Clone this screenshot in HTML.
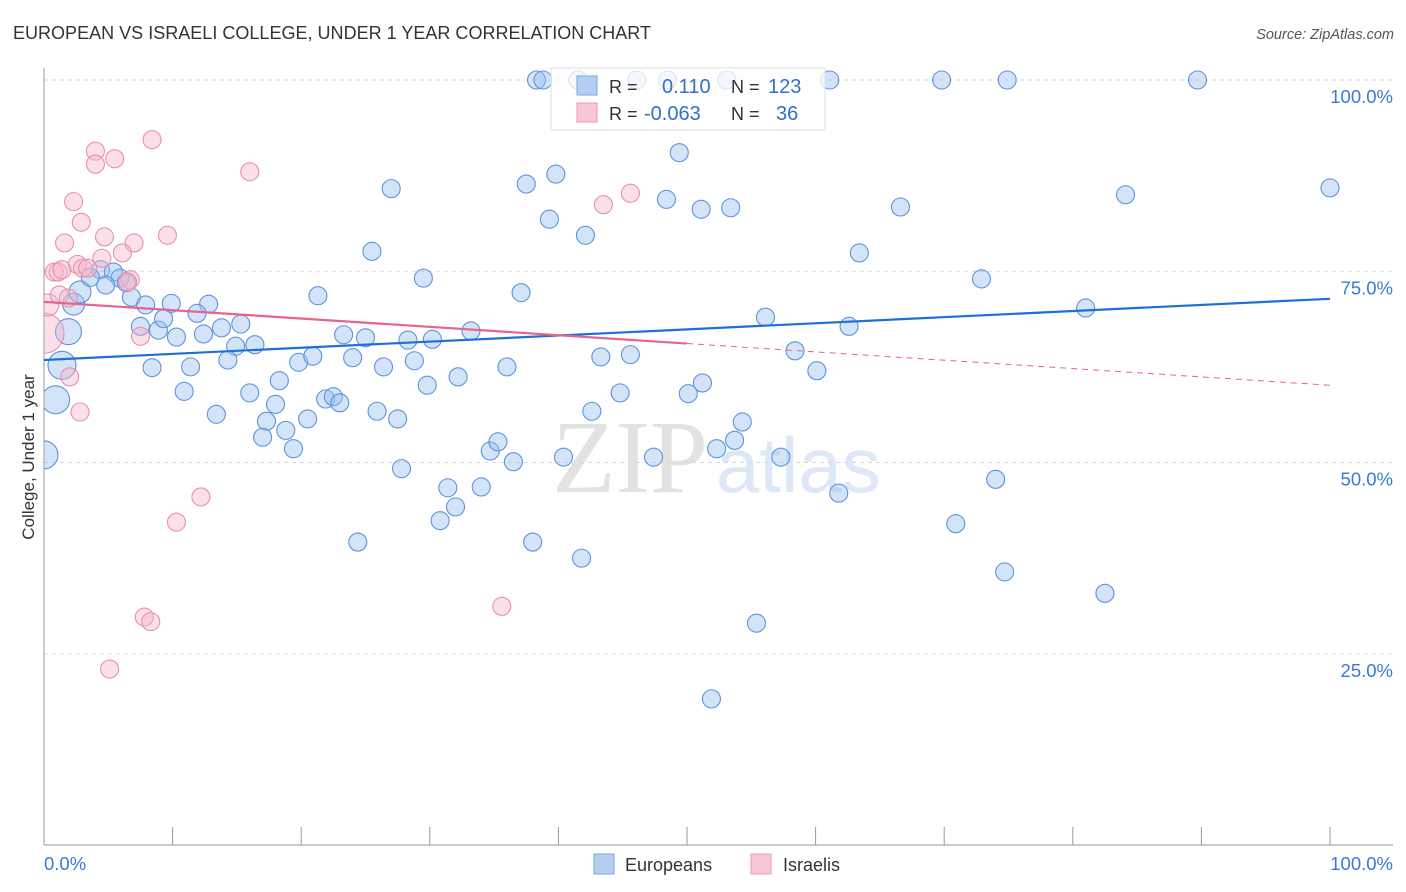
<!DOCTYPE html>
<html><head><meta charset="utf-8"><style>
body{margin:0;background:#fff;font-family:"Liberation Sans",sans-serif;}
svg{display:block}
</style></head><body>
<svg id="chart" width="1406" height="892" viewBox="0 0 1406 892">
<defs><clipPath id="plotclip"><rect x="44" y="40" width="1360" height="805"/></clipPath></defs>
<text x="13" y="39" font-size="18" fill="#333" textLength="638">EUROPEAN VS ISRAELI COLLEGE, UNDER 1 YEAR CORRELATION CHART</text>
<text x="1394" y="39" font-size="14.5" font-style="italic" fill="#555" text-anchor="end">Source: ZipAtlas.com</text>
<g>
<text x="552" y="492" font-family="Liberation Serif,serif" font-size="104" fill="#e2e2e2">ZIP</text>
<text x="716" y="492" font-size="78" fill="#dce8f8">atlas</text>
</g>
<g id="grid"></g>
<g id="axes"></g>
<g id="pts" clip-path="url(#plotclip)"></g>
<g id="trends"></g>
<g>
<rect x="551" y="68" width="274" height="62" fill="#fff" fill-opacity="0.75" stroke="#ddd"/>
<rect x="577" y="76" width="20" height="19" fill="#b5cff3" stroke="#7aa5e0"/>
<rect x="577" y="103" width="20" height="19" fill="#f9c6d5" stroke="#eb9ab4"/>
<text x="609" y="93" font-size="18" fill="#333">R =</text>
<text x="662" y="93" font-size="20" fill="#2f6fd0">0.110</text>
<text x="731" y="93" font-size="18" fill="#333">N =</text>
<text x="768" y="93" font-size="20" fill="#2f6fd0">123</text>
<text x="609" y="120" font-size="18" fill="#333">R =</text>
<text x="644" y="120" font-size="20" fill="#2f6fd0">-0.063</text>
<text x="731" y="120" font-size="18" fill="#333">N =</text>
<text x="776" y="120" font-size="20" fill="#2f6fd0">36</text>
</g>
<text transform="translate(34,457) rotate(-90)" font-size="17" fill="#333" text-anchor="middle">College, Under 1 year</text>
<g>
<rect x="594" y="854" width="20" height="20" fill="#b5cff3" stroke="#7aa5e0"/>
<text x="625" y="871" font-size="18" fill="#333">Europeans</text>
<rect x="751" y="854" width="20" height="20" fill="#f9c6d5" stroke="#eb9ab4"/>
<text x="783" y="871" font-size="18" fill="#333">Israelis</text>
</g>
</svg>
<script>
const xTickVals=[0,10,20,30,40,50,60,70,80,90,100];
const yTickVals=[25,50,75,100];
const yTickLabels=["25.0%","50.0%","75.0%","100.0%"];
const xEndLabels=["0.0%","100.0%"];
const euX=[0,0.9,1.4,1.9,2.3,2.8,38.3,38.8,41.5,46.1,48.5,53.1,61.1,69.8,74.9,89.7,49.4,27.0,37.5,39.8,48.4,51.1,53.4,66.6,84.1,100,39.3,42.1,25.5,63.4,29.5,72.9,4.4,5.4,5.9,6.4,4.8,3.6,6.8,7.9,9.9,12.8,21.3,37.1,11.9,81.0,56.1,7.5,8.9,10.3,12.4,13.8,15.3,9.3,14.9,16.4,23.3,25.0,28.3,30.2,33.2,62.6,8.4,11.4,14.3,19.8,20.9,24.0,26.4,28.8,32.2,36.0,43.3,45.6,58.4,60.1,10.9,16.0,18.3,18.0,21.9,22.5,23.0,29.8,44.8,50.1,51.2,13.4,17.3,20.5,25.9,27.5,42.6,54.3,18.8,17.0,19.4,34.7,35.3,36.5,40.4,47.4,52.3,53.7,57.3,27.8,31.4,34.0,32.0,30.8,61.8,74.0,24.4,38.0,70.9,41.8,74.7,82.5,55.4,51.9];
const euY=[51.0,58.2,62.7,67.1,70.7,72.3,100,100,100,100,100,100,100,100,100,100,90.5,85.8,86.4,87.7,84.4,83.1,83.3,83.4,85.0,85.9,81.8,79.7,77.6,77.4,74.1,74.0,75.2,74.9,74.1,73.5,73.2,74.2,71.6,70.6,70.8,70.7,71.8,72.2,69.5,70.2,69.0,67.8,67.3,66.4,66.8,67.6,68.1,68.8,65.2,65.4,66.7,66.3,66.0,66.1,67.2,67.8,62.4,62.5,63.4,63.1,63.9,63.7,62.5,63.3,61.2,62.5,63.8,64.1,64.6,62.0,59.3,59.1,60.7,57.6,58.3,58.6,57.8,60.1,59.1,59.0,60.4,56.3,55.4,55.7,56.7,55.7,56.7,55.3,54.2,53.3,51.8,51.5,52.7,50.1,50.7,50.7,51.8,52.9,50.7,49.2,46.7,46.8,44.2,42.4,46.0,47.8,39.6,39.6,42.0,37.5,35.7,32.9,29.0,19.1];
const euS=[14,14,14,13,11,11];
const isX=[0,0.3,0.8,1.1,1.4,1.6,2.3,2.9,2.6,3.0,3.4,4.0,4.0,5.5,8.4,16.0,4.7,7.0,6.1,4.5,6.7,9.6,1.2,1.9,2.0,2.8,12.2,10.3,7.8,8.3,5.1,35.6,43.5,45.6,7.5,6.5];
const isY=[66.9,70.6,74.9,74.9,75.2,78.7,84.1,81.4,75.9,75.4,75.4,90.7,89.0,89.7,92.2,88.0,79.5,78.7,77.4,76.7,73.9,79.7,71.9,71.5,61.2,56.6,45.5,42.2,29.8,29.2,23.0,31.2,83.7,85.2,66.5,73.6];
const isS=[20,11];
const euTrend=[63.4,71.4];
const isTrend=[71.0,60.1];
const isSolidEnd=50;

const NS="http://www.w3.org/2000/svg";
const X0=44,X1=1330,YB=845,YT=80;
const sx=v=>X0+(X1-X0)*v/100;
const sy=v=>YB-(YB-YT)*v/100;
function mk(tag,attrs,parent){const e=document.createElementNS(NS,tag);for(const k in attrs)e.setAttribute(k,attrs[k]);parent.appendChild(e);return e;}
const grid=document.getElementById('grid'),axes=document.getElementById('axes'),pts=document.getElementById('pts'),tr=document.getElementById('trends');
yTickVals.forEach((v,i)=>{
 const l=mk('line',{x1:X0,x2:1393,y1:sy(v),y2:sy(v),stroke:'#d8d8d8','stroke-dasharray':'4,4'},grid);
 
 
 const t=mk('text',{x:1393,y:sy(v)+23,'font-size':18.5,fill:'#3b78d8','text-anchor':'end'},axes);
 t.textContent=yTickLabels[i];
 
 
});
mk('line',{x1:X0,x2:X0,y1:68,y2:YB,stroke:'#999'},axes);
mk('line',{x1:X0,x2:1393,y1:YB,y2:YB,stroke:'#999'},axes);
xTickVals.forEach(v=>{
 const t=mk('line',{x1:sx(v),x2:sx(v),y1:827,y2:YB,stroke:'#999'},axes);
 
 
});
[[0,'start',44],[100,'end',1393]].forEach((a,i)=>{
 const t=mk('text',{x:a[2],y:870,'font-size':18.5,fill:'#3b78d8','text-anchor':a[1]},axes);
 t.textContent=xEndLabels[i];
 
 
});
euX.forEach((x,i)=>{
 const c=mk('circle',{cx:sx(x),cy:sy(euY[i]),r:euS[i]||9,fill:'rgba(150,190,240,0.42)',stroke:'#5d93dc','stroke-width':1.1},pts);
 
 
});
isX.forEach((x,i)=>{
 const c=mk('circle',{cx:sx(x),cy:sy(isY[i]),r:isS[i]||9,fill:'rgba(246,180,202,0.42)',stroke:'#e98fae','stroke-width':1.1},pts);
 
 
});
const eu=mk('line',{x1:sx(0),y1:sy(euTrend[0]),x2:sx(100),y2:sy(euTrend[1]),stroke:'#1f6fd6','stroke-width':2.2},tr);


const pm=isTrend[0]+(isTrend[1]-isTrend[0])*isSolidEnd/100;
const is1=mk('line',{x1:sx(0),y1:sy(isTrend[0]),x2:sx(isSolidEnd),y2:sy(pm),stroke:'#e4648e','stroke-width':2.2},tr);


const is2=mk('line',{x1:sx(isSolidEnd),y1:sy(pm),x2:sx(100),y2:sy(isTrend[1]),stroke:'#e4648e','stroke-width':1,'stroke-dasharray':'6,5'},tr);


</script>
</body></html>
